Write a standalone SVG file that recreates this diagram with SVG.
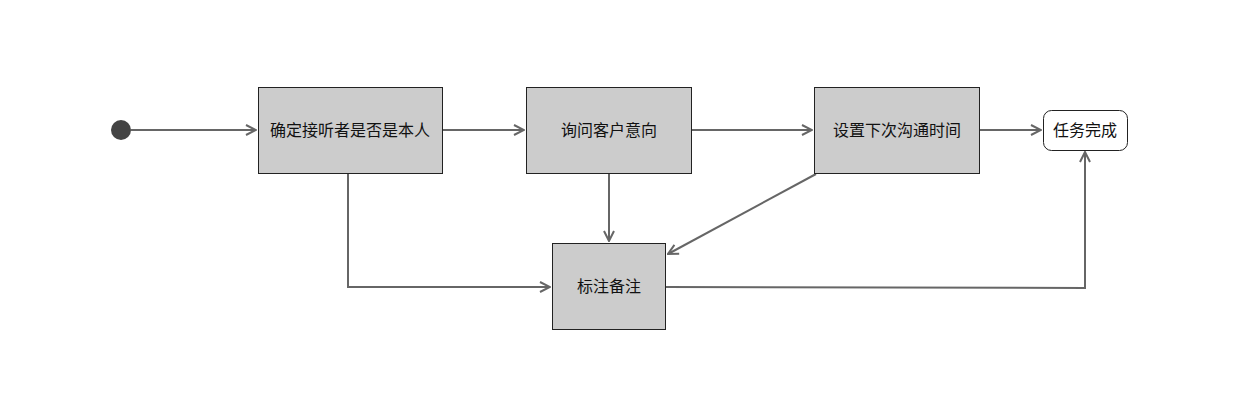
<svg xmlns="http://www.w3.org/2000/svg" width="1248" height="402" viewBox="0 0 1248 402">
<style>
.box{fill:#cccccc;stroke:#222222;stroke-width:1}
.end{fill:#ffffff;stroke:#222222;stroke-width:1}
.lbl{font-family:"Liberation Sans","Noto Sans CJK SC",sans-serif;font-size:16px;fill:#111111;text-anchor:middle;dominant-baseline:central}
.edge{fill:none;stroke:#666666;stroke-width:2}
</style>
<defs>
<marker id="arr" viewBox="0 0 12 12" refX="11" refY="6" markerWidth="12" markerHeight="12" markerUnits="userSpaceOnUse" orient="auto">
<path d="M1,1 L11,6 L1,11" fill="none" stroke="#666666" stroke-width="2"/>
</marker>
</defs>
<rect width="1248" height="402" fill="#ffffff"/>
<g id="connectors">
<line class="edge" x1="131" y1="130" x2="256" y2="130" marker-end="url(#arr)"/>
<line class="edge" x1="442" y1="130" x2="524" y2="130" marker-end="url(#arr)"/>
<line class="edge" x1="691" y1="130" x2="812" y2="130" marker-end="url(#arr)"/>
<line class="edge" x1="979" y1="130" x2="1041" y2="130" marker-end="url(#arr)"/>
<polyline class="edge" points="348,173 348,287 550,287" marker-end="url(#arr)"/>
<line class="edge" x1="609" y1="173" x2="609" y2="241" marker-end="url(#arr)"/>
<line class="edge" x1="816" y1="174" x2="668" y2="254" marker-end="url(#arr)"/>
<polyline class="edge" points="665,287 1085,288 1085,152" marker-end="url(#arr)"/>
</g>
<g id="start">
<circle cx="121" cy="130" r="10" fill="#444444"/>
</g>
<g id="n1">
<rect class="box" x="258.5" y="87.5" width="184" height="86"/>
<text class="lbl" x="350" y="130">确定接听者是否是本人</text>
</g>
<g id="n2">
<rect class="box" x="526.5" y="87.5" width="165" height="86"/>
<text class="lbl" x="609" y="130">询问客户意向</text>
</g>
<g id="n3">
<rect class="box" x="814.5" y="87.5" width="165" height="86"/>
<text class="lbl" x="897" y="130">设置下次沟通时间</text>
</g>
<g id="n4">
<rect class="end" x="1043.5" y="110.5" width="84" height="40" rx="8"/>
<text class="lbl" x="1085" y="130">任务完成</text>
</g>
<g id="n5">
<rect class="box" x="552.5" y="243.5" width="113" height="86"/>
<text class="lbl" x="609" y="286">标注备注</text>
</g>
</svg>
